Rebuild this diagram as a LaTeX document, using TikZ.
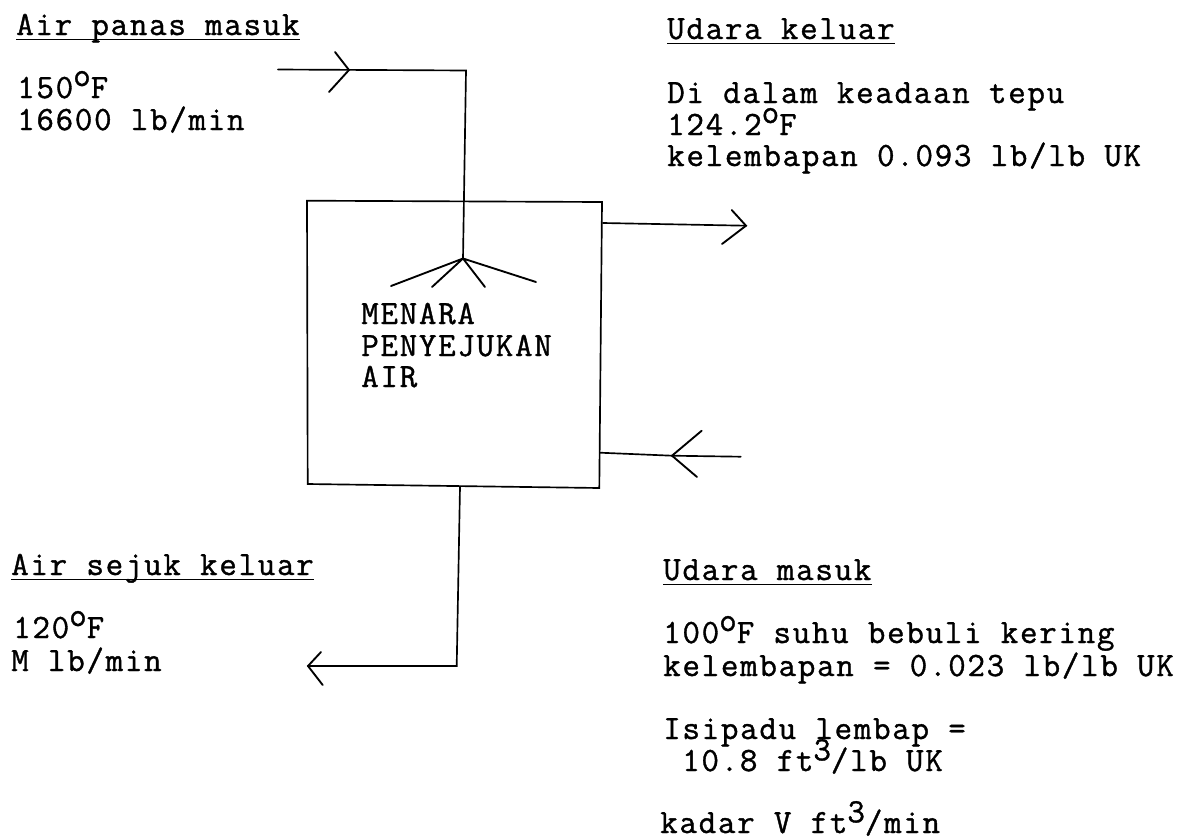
\documentclass[tikz,border=0pt]{standalone}
\usepackage{fontspec}
\setmonofont[LetterSpace=5.06,FakeBold=1.1]{Latin Modern Mono}
\tikzset{
 txt/.style={anchor=base west,inner sep=0pt,font=\ttfamily\fontsize{25.5}{30}\selectfont},
 ln/.style={line width=1.25pt,black,line cap=round,line join=miter},
 barb/.style={line width=1.4pt,black,line cap=round},
 ul/.style={line width=1.3pt,black}
}
\newcommand{\dg}{\raisebox{9pt}{o}}
\newcommand{\cub}{\raisebox{8pt}{3}}
\begin{document}
\begin{tikzpicture}[x=0.75pt,y=0.75pt,yscale=-1]
\useasboundingbox (0,0) rectangle (1198,839);
\def\T(#1,#2)#3#4{\node[txt] (#3) at (#1,#2) {#4};}
\def\H(#1,#2)#3#4{\node[txt] (#3) at (#1,#2) {#4};\draw[ul] ([yshift=3.4pt]#3.base west) -- ([yshift=3.4pt]#3.base east);}
\H(16,35){h1}{Air panas masuk}
\T(17,98){a1}{150\dg F}
\T(17,130){a2}{16600 lb/min}
\H(667,39){h2}{Udara keluar}
\T(667,103){b1}{Di dalam keadaan tepu}
\T(667,135){b2}{124.2\dg F}
\T(667,166){b3}{kelembapan 0.093 lb/lb UK}
\T(361,324){m1}{MENARA}
\T(361,356){m2}{PENYEJUKAN}
\T(361,387){m3}{AIR}
\H(11,575){h3}{Air sejuk keluar}
\T(13,638){c1}{120\dg F}
\T(11,671){c2}{M lb/min}
\H(663,580){h4}{Udara masuk}
\T(663,643){d1}{100\dg F suhu bebuli kering}
\T(663,676){d2}{kelembapan = 0.023 lb/lb UK}
\T(663,739){d3}{Isipadu lembap =}
\T(682,771){d4}{10.8 ft\cub/lb UK}
\T(660,833){d5}{kadar V ft\cub/min}
% tower
\coordinate (tl) at (307,200.7);
\coordinate (tr) at (602,202);
\coordinate (br) at (599.3,488);
\coordinate (bl) at (307.7,484);
\draw[ln] (tl) -- (tr) -- (br) -- (bl) -- cycle;
% hot water in
\coordinate (hs) at (278,69.5);
\coordinate (hc) at (466,70.5);
\coordinate (hub) at (463,258.5);
\coordinate (htip) at (349,70);
\coordinate (hb1) at (335,52);
\coordinate (hb2) at (329,92);
\draw[ln] (hs) -- (hc) -- (hub);
\draw[barb] (hb1) -- (htip) -- (hb2);
% sprinkler
\coordinate (s1) at (391,286);
\coordinate (s2) at (432,287);
\coordinate (s3) at (485,287);
\coordinate (s4) at (536,282);
\draw[barb] (hub) -- (s1) (hub) -- (s2) (hub) -- (s3) (hub) -- (s4);
% air out
\coordinate (os) at (603,223);
\coordinate (ot) at (746,225.7);
\coordinate (ob1) at (731.7,210);
\coordinate (ob2) at (722,244);
\draw[ln] (os) -- (ot);
\draw[barb] (ob1) -- (ot) -- (ob2);
% air in
\coordinate (is) at (600,452.7);
\coordinate (ie) at (740.7,456.7);
\coordinate (it) at (672,455.7);
\coordinate (ib1) at (701.7,430.7);
\coordinate (ib2) at (697,477);
\draw[ln] (is) -- (it) -- (ie);
\draw[barb] (ib1) -- (it) -- (ib2);
% cool water out
\coordinate (cs) at (460,486.7);
\coordinate (cc) at (456.7,666);
\coordinate (ct) at (308,666);
\coordinate (cb1) at (321,652);
\coordinate (cb2) at (322.7,685);
\draw[ln] (cs) -- (cc) -- (ct);
\draw[barb] (cb1) -- (ct) -- (cb2);
\end{tikzpicture}
\end{document}
